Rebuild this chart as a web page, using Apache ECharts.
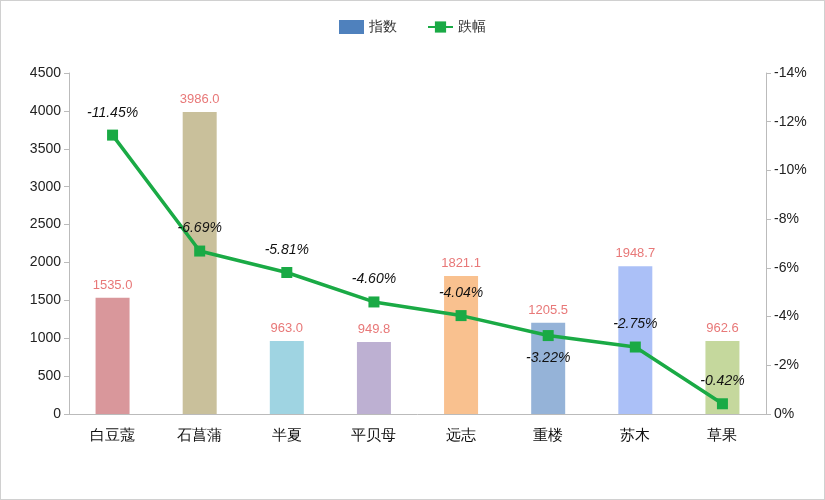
<!DOCTYPE html>
<html><head><meta charset="utf-8">
<script src="https://cdn.jsdelivr.net/npm/echarts@6/dist/echarts.min.js"></script>
<style>html,body{margin:0;padding:0;background:#fff}#c{width:825px;height:500px;box-sizing:border-box;border:1px solid #d0d0d0}</style>
</head><body><div id="c"></div>
<script>
const categories=['白豆蔻','石菖蒲','半夏','平贝母','远志','重楼','苏木','草果'];
const indexValues=[1535.0,3986.0,963.0,949.8,1821.1,1205.5,1948.7,962.6];
const changeValues=[-11.45,-6.69,-5.81,-4.60,-4.04,-3.22,-2.75,-0.42];
const barColors=['#d9979b','#c9c09b','#9fd4e2','#bdb0d2','#f9c18f','#95b3d8','#abc0f7','#c5d89d'];
const leftTicks=[0,4500,500];
const rightTicks=[0,14,2];
const chart=echarts.init(document.getElementById('c'));
chart.setOption({
  animation:false,
  legend:{top:14,left:'center',itemGap:30,textStyle:{fontSize:14,color:'#333'},
    data:[{name:'指数',icon:'rect',itemStyle:{color:'#4f81bd'}},{name:'跌幅'}]},
  grid:{left:68,right:58,top:72,bottom:85},
  xAxis:{type:'category',data:categories,axisTick:{show:false},
    axisLine:{lineStyle:{color:'#bbb'}},axisLabel:{fontSize:15,color:'#111',margin:14}},
  yAxis:[{type:'value',min:leftTicks[0],max:leftTicks[1],interval:leftTicks[2],splitLine:{show:false},
      axisLine:{show:true,lineStyle:{color:'#bbb'}},axisTick:{show:true},
      axisLabel:{fontSize:14,color:'#222',formatter:v=>String(v)}},
    {type:'value',min:rightTicks[0],max:rightTicks[1],interval:rightTicks[2],splitLine:{show:false},
      axisLine:{show:true,lineStyle:{color:'#bbb'}},axisTick:{show:true},
      axisLabel:{fontSize:14,color:'#222',formatter:v=>v===0?'0%':'-'+v+'%'}}],
  series:[
    {name:'指数',type:'bar',barWidth:34,
     data:indexValues.map((v,i)=>({value:v,itemStyle:{color:barColors[i]}})),
     label:{show:true,position:'top',distance:6,color:'#e87878',fontSize:13,formatter:p=>p.value.toFixed(1)}},
    {name:'跌幅',type:'line',yAxisIndex:1,symbol:'rect',symbolSize:11,
     itemStyle:{color:'#1aaa45'},lineStyle:{color:'#1aaa45',width:3.5},
     data:changeValues.map((v,i)=>({value:-v,label:{position:i===5?'bottom':'top'}})),
     label:{show:true,distance:10,fontSize:14,fontStyle:'italic',color:'#111',
       formatter:p=>'-'+p.value.toFixed(2)+'%'}}
  ]
});
</script></body></html>
